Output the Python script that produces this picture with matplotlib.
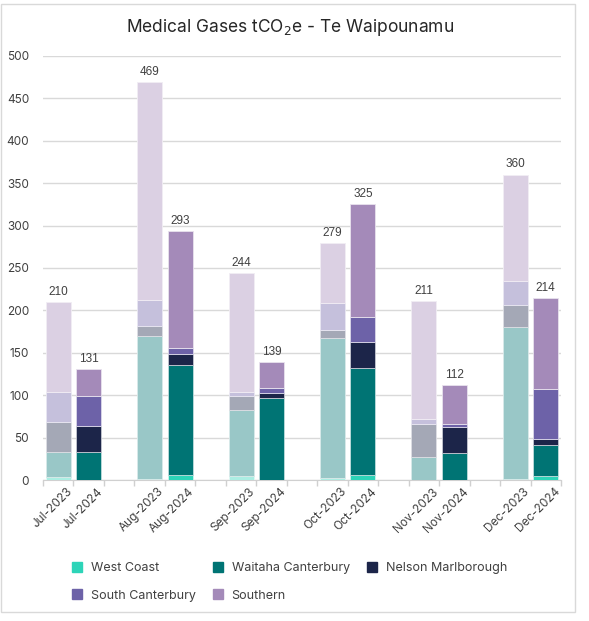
import matplotlib.pyplot as plt
import matplotlib.transforms as mtransforms
from matplotlib.colors import to_rgb
from matplotlib.patches import Rectangle
from matplotlib.lines import Line2D

months = ['Jul', 'Aug', 'Sep', 'Oct', 'Nov', 'Dec']
years = ['2023', '2024']
regions = ['West Coast', 'Waitaha Canterbury', 'Nelson Marlborough',
           'South Canterbury', 'Southern']
colors = ['#2dd4b8', '#007474', '#1c2549', '#6d62a8', '#a48ab9']

# tCO2e per region, Jul-Dec
west_coast_2023 = [4, 1, 5, 2, 0, 1]
west_coast_2024 = [0, 6, 0, 6, 0, 5]
waitaha_2023 = [29, 169, 78, 165, 27, 179]
waitaha_2024 = [33, 130, 97, 126, 32, 36]
nelson_2023 = [36, 11, 16, 10, 39, 26]
nelson_2024 = [31, 13, 6, 31, 30, 7]
south_cant_2023 = [35, 31, 5, 32, 6, 29]
south_cant_2024 = [35, 7, 5, 29, 4, 59]
southern_2023 = [106, 257, 140, 70, 139, 125]
southern_2024 = [32, 137, 31, 133, 46, 107]

data_2023 = [west_coast_2023, waitaha_2023, nelson_2023, south_cant_2023, southern_2023]
data_2024 = [west_coast_2024, waitaha_2024, nelson_2024, south_cant_2024, southern_2024]


def fade(c, a=0.4):
    r, g, b = to_rgb(c)
    return (1 - a + a * r, 1 - a + a * g, 1 - a + a * b)


plt.rcParams['font.family'] = ['Inter', 'DejaVu Sans']

fig = plt.figure(figsize=(5.89, 6.21), dpi=100)
ax = fig.add_axes([0.073, 0.227, 0.8795, 0.683])

# 3 slots per month: 2023, 2024, gap
n_slots = len(months) * 3 - 1
width = 0.82
xt, xl = [], []
for m, mon in enumerate(months):
    for k, (yr, data) in enumerate(zip(years, [data_2023, data_2024])):
        x = m * 3 + k
        bottom = 0
        for r in range(len(regions)):
            v = data[r][m]
            c = colors[r] if yr == '2024' else fade(colors[r])
            ax.bar(x, v, width, bottom=bottom, color=c,
                   edgecolor=fade(colors[r], 0.25 if yr == '2024' else 0.15),
                   linewidth=0.6, zorder=3)
            bottom += v
        ax.text(x, bottom + 5, f'{bottom}', ha='center', va='bottom',
                fontsize=8.5, color='#404040', family='Liberation Sans')
        xt.append(x)
        xl.append(f'{mon}-{yr}')

ax.set_xlim(-0.5, n_slots - 0.5)
ax.set_ylim(0, 500)
ax.set_yticks(range(0, 501, 50))
ax.tick_params(axis='y', length=0, labelsize=8.5, colors='#404040', pad=10)
ax.set_xticks(xt)
ax.set_xticklabels(xl, rotation=45, ha='right', rotation_mode='anchor',
                   fontsize=8.5, color='#404040')
ax.tick_params(axis='x', length=0, pad=4)
shift = mtransforms.ScaledTranslation(8 / 100, 0, fig.dpi_scale_trans)
for lab in ax.get_xticklabels():
    lab.set_transform(lab.get_transform() + shift)
ax.set_xticks([i - 0.5 for i in range(n_slots + 1)], minor=True)
ax.tick_params(axis='x', which='minor', length=4, color='#d0d0d0', width=1)
ax.grid(axis='y', color='#d9d9d9', linewidth=1, zorder=0)
for s in ['top', 'right', 'left']:
    ax.spines[s].set_visible(False)
ax.spines['bottom'].set_color('#d0d0d0')

fig.text(0.493, 0.955, r'Medical Gases tCO$_2$e - Te Waipounamu',
         ha='center', va='center', fontsize=12.5, color='#262626')

# legend fills column-wise, so order entries to read across rows
order = [0, 3, 1, 4, 2]
handles = [Line2D([], [], marker='s', linestyle='', markersize=7,
                  markerfacecolor=colors[i], markeredgecolor=colors[i]) for i in order]
fig.legend(handles, [regions[i] for i in order], loc='center left',
           bbox_to_anchor=(0.09, 0.063), ncol=3, frameon=False, fontsize=9,
           handletextpad=0.1, columnspacing=0.8, labelspacing=1.25,
           labelcolor='#404040')

fig.add_artist(Rectangle((0.002, 0.015), 0.975, 0.979, transform=fig.transFigure,
                         fill=False, edgecolor='#d9d9d9', linewidth=1))

fig.savefig('out.png', dpi=100)
